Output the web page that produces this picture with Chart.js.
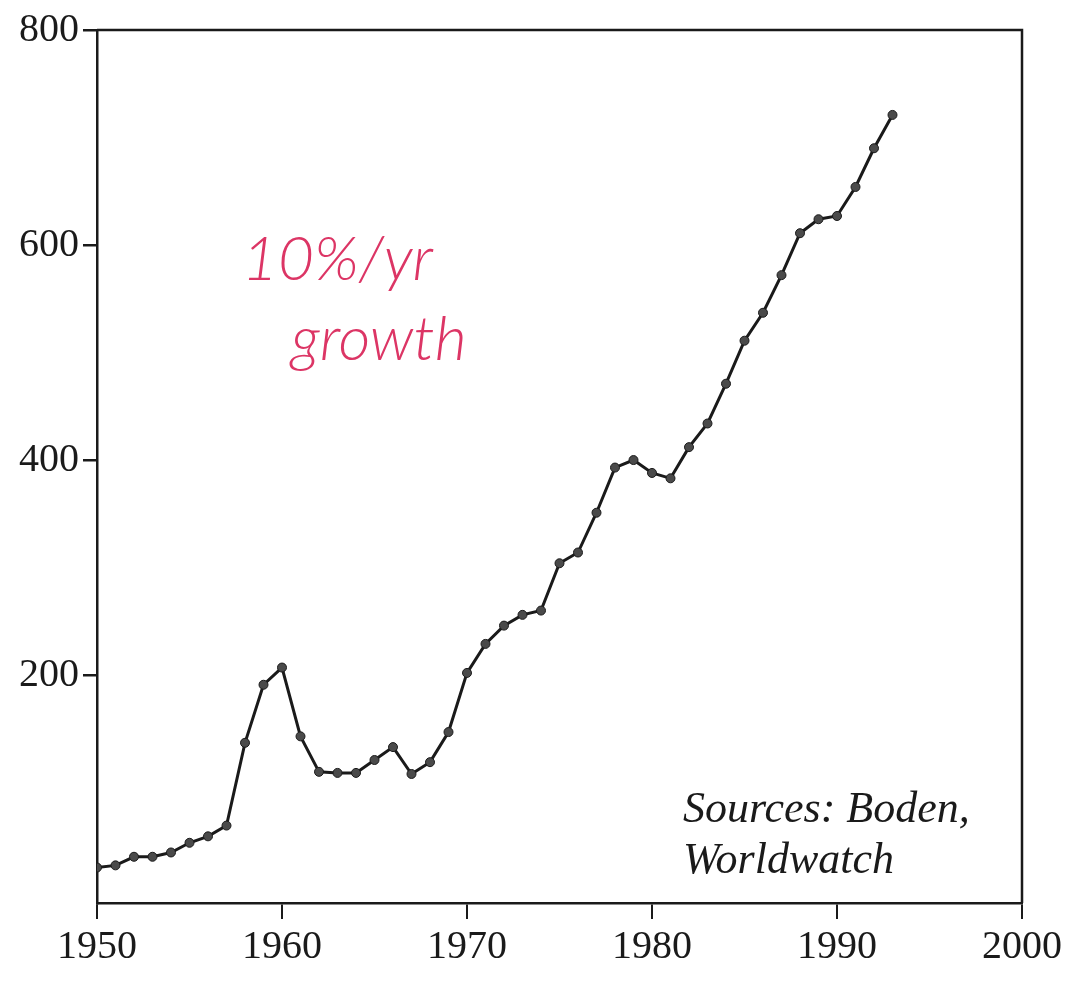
<!DOCTYPE html>
<html>
<head>
<meta charset="utf-8">
<script src="https://cdn.jsdelivr.net/npm/chart.js@4/dist/chart.umd.min.js"></script>
<style>
  html, body { margin: 0; padding: 0; background: #fff; }
  #wrapper { width: 1079px; height: 981px; }
</style>
</head>
<body>
<div id="wrapper"><canvas id="line-chart"></canvas></div>
<script>
// years shown on the plot (one point per year)
const years = [
  1950, 1951, 1952, 1953, 1954, 1955, 1956, 1957, 1958, 1959,
  1960, 1961, 1962, 1963, 1964, 1965, 1966, 1967, 1968, 1969,
  1970, 1971, 1972, 1973, 1974, 1975, 1976, 1977, 1978, 1979,
  1980, 1981, 1982, 1983, 1984, 1985, 1986, 1987, 1988, 1989,
  1990, 1991, 1992, 1993
];
// values
const emissions = [
  21, 23, 31, 31, 35, 44, 50, 60, 137, 191,
  207, 143, 110, 109, 109, 121, 133, 108, 119, 147,
  202, 229, 246, 256, 260, 304, 314, 351, 393, 400,
  388, 383, 412, 434, 471, 511, 537, 572, 611, 624,
  627, 654, 690, 721
];
const xTicks = [1950, 1960, 1970, 1980, 1990, 2000];
const yTicks = [200, 400, 600, 800];
const sourceLines = ['Sources: Boden,', 'Worldwatch'];
const noteLines = ['10%/yr', 'growth'];

(function() {
  const ink = '#1a1a1a';

  // box around the plot + the two text notes
  const frame = {
    id: 'frame',
    afterDraw(chart) {
      const ctx = chart.ctx;
      const a = chart.chartArea;
      ctx.save();
      ctx.strokeStyle = ink;
      ctx.lineWidth = 2.5;
      ctx.beginPath();
      ctx.moveTo(a.left, a.top);
      ctx.lineTo(a.right, a.top);
      ctx.lineTo(a.right, a.bottom);
      ctx.stroke();

      ctx.fillStyle = ink;
      ctx.font = 'italic 44px "Liberation Serif", serif';
      ctx.textBaseline = 'alphabetic';
      ctx.fillText(sourceLines[0], a.left + 586, a.top + 792);
      ctx.fillText(sourceLines[1], a.left + 586, a.top + 843);

      // handwritten note
      ctx.fillStyle = '#dc3565';
      ctx.font = 'italic 300 62px Lato, "Open Sans", sans-serif';
      ctx.fillText(noteLines[0], a.left + 145, a.top + 250);
      ctx.fillText(noteLines[1], a.left + 194, a.top + 330);
      ctx.restore();
    }
  };

  let lineChart = document.getElementById('line-chart').getContext('2d');
  new Chart(lineChart, {
    type: 'line',
    data: {
      datasets: [
        {
          data: years.map((y, i) => ({ x: y, y: emissions[i] })),
          borderColor: ink,
          borderWidth: 3,
          pointRadius: 4.5,
          pointBackgroundColor: '#4a4a4a',
          pointBorderColor: ink,
          pointBorderWidth: 1,
          tension: 0,
          fill: false
        }
      ]
    },
    options: {
      responsive: true,
      maintainAspectRatio: false,
      animation: false,
      layout: { padding: { top: 30, right: 57, left: 0, bottom: 0 } },
      plugins: {
        legend: { display: false },
        tooltip: { enabled: false }
      },
      scales: {
        x: {
          type: 'linear',
          min: 1950,
          max: 2000,
          afterBuildTicks: (s) => { s.ticks = xTicks.map(v => ({ value: v })); },
          afterFit: (s) => { s.height = 78; },
          border: { display: true, color: ink, width: 2.5 },
          grid: { drawOnChartArea: false, drawTicks: true, tickLength: 16, color: ink, lineWidth: 2 },
          ticks: {
            color: ink,
            padding: 4,
            font: { family: '"Liberation Serif", serif', size: 40 },
            callback: (v) => String(v)
          }
        },
        y: {
          min: -12,
          max: 800,
          afterBuildTicks: (s) => { s.ticks = yTicks.map(v => ({ value: v })); },
          afterFit: (s) => { s.width = 97; },
          border: { display: true, color: ink, width: 2.5 },
          grid: { drawOnChartArea: false, drawTicks: true, tickLength: 14, color: ink, lineWidth: 2.5 },
          ticks: {
            color: ink,
            padding: 4,
            font: { family: '"Liberation Serif", serif', size: 40 },
            callback: (v) => String(v)
          }
        }
      }
    },
    plugins: [frame]
  });
})();
</script>
</body>
</html>
